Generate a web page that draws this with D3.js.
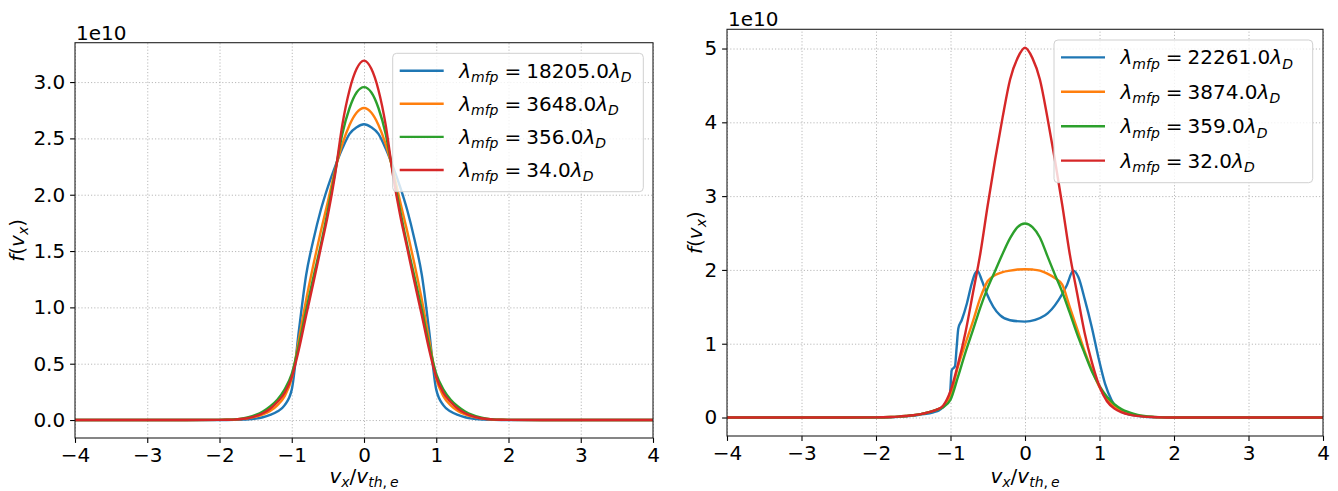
<!DOCTYPE html>
<html>
<head>
<meta charset="utf-8">
<script src="https://cdn.jsdelivr.net/npm/d3@7"></script>
<style>
  body { margin: 0; background: #fff; }
  svg text { font-family: "DejaVu Sans", sans-serif; fill: #000; }
</style>
</head>
<body>
<svg id="chart" width="1338" height="491"></svg>
<script>
// --- data (f values in units of 1e10) ---
const vx = [-4, -3, -2, -1.9, -1.8, -1.7, -1.6, -1.5, -1.4, -1.3, -1.2, -1.1, -1.0, -0.9, -0.8, -0.7, -0.6, -0.5, -0.4, -0.3, -0.2, -0.1,
  0, 0.1, 0.2, 0.3, 0.4, 0.5, 0.6, 0.7, 0.8, 0.9, 1.0, 1.1, 1.2, 1.3, 1.4, 1.5, 1.6, 1.7, 1.8, 1.9, 2, 3, 4];

const xTicks = [-4, -3, -2, -1, 0, 1, 2, 3, 4];
const yTicksLeft = [0, 0.5, 1.0, 1.5, 2.0, 2.5, 3.0];
const yTicksRight = [0, 1, 2, 3, 4, 5];

const lambdaLeft = ["18205.0", "3648.0", "356.0", "34.0"];
const lambdaRight = ["22261.0", "3874.0", "359.0", "32.0"];
const colors = ["#1f77b4", "#ff7f0e", "#2ca02c", "#d62728"];

// left panel
const blueLeft = [0, 0, 0, 0, 0.001, 0.003, 0.006, 0.013, 0.025, 0.045, 0.075, 0.13, 0.27, 0.80, 1.29, 1.60, 1.86, 2.07, 2.25, 2.41, 2.54, 2.60,
  2.626, 2.60, 2.54, 2.41, 2.25, 2.07, 1.86, 1.60, 1.29, 0.80, 0.27, 0.13, 0.075, 0.045, 0.025, 0.013, 0.006, 0.003, 0.001, 0, 0, 0, 0];
const orangeLeft = [0, 0, 0.001, 0.002, 0.004, 0.009, 0.017, 0.03, 0.05, 0.08, 0.13, 0.21, 0.37, 0.72, 1.07, 1.38, 1.67, 1.94, 2.22, 2.45, 2.62, 2.73,
  2.77, 2.73, 2.62, 2.45, 2.22, 1.94, 1.67, 1.38, 1.07, 0.72, 0.37, 0.21, 0.13, 0.08, 0.05, 0.03, 0.017, 0.009, 0.004, 0.002, 0.001, 0, 0];
const greenLeft = [0, 0, 0.001, 0.003, 0.006, 0.013, 0.025, 0.045, 0.075, 0.12, 0.18, 0.27, 0.41, 0.67, 0.98, 1.27, 1.55, 1.86, 2.20, 2.54, 2.77, 2.91,
  2.955, 2.91, 2.77, 2.54, 2.20, 1.86, 1.55, 1.27, 0.98, 0.67, 0.41, 0.27, 0.18, 0.12, 0.075, 0.045, 0.025, 0.013, 0.006, 0.003, 0.001, 0, 0];
const redLeft = [0, 0, 0.001, 0.002, 0.004, 0.009, 0.018, 0.035, 0.06, 0.10, 0.16, 0.24, 0.38, 0.63, 0.93, 1.22, 1.52, 1.82, 2.18, 2.62, 2.93, 3.12,
  3.19, 3.12, 2.93, 2.62, 2.18, 1.82, 1.52, 1.22, 0.93, 0.63, 0.38, 0.24, 0.16, 0.10, 0.06, 0.035, 0.018, 0.009, 0.004, 0.002, 0.001, 0, 0];

// right panel
const blueRight = [[-4, 0], [-3, 0], [-2, 0], [-1.8, 0.003], [-1.68, 0.01], [-1.5, 0.025], [-1.41, 0.04], [-1.23, 0.07], [-1.15, 0.1],
  [-1.074, 0.167], [-1.007, 0.325], [-0.984, 0.64], [-0.94, 0.695], [-0.917, 0.957], [-0.895, 1.206], [-0.85, 1.318], [-0.78, 1.545],
  [-0.715, 1.816], [-0.671, 1.95], [-0.64, 1.99], [-0.58, 1.86], [-0.514, 1.68], [-0.425, 1.50], [-0.336, 1.386], [-0.2, 1.318],
  [0, 1.30], [0.27, 1.386], [0.45, 1.59], [0.56, 1.79], [0.648, 1.99], [0.716, 1.905], [0.805, 1.59], [0.895, 1.23], [0.984, 0.82],
  [1.074, 0.46], [1.163, 0.235], [1.298, 0.076], [1.48, 0.027], [1.74, 0.003], [2, 0], [3, 0], [4, 0]];
const orangeRight = [0, 0, 0.002, 0.004, 0.007, 0.012, 0.02, 0.03, 0.045, 0.07, 0.10, 0.15, 0.30, 0.69, 1.00, 1.30, 1.62, 1.85, 1.93, 1.97, 1.99, 2.005,
  2.01, 2.005, 1.99, 1.95, 1.89, 1.80, 1.50, 1.20, 0.90, 0.64, 0.41, 0.25, 0.15, 0.09, 0.055, 0.03, 0.016, 0.008, 0.004, 0.002, 0.001, 0, 0];
const greenRight = [0, 0, 0.002, 0.004, 0.007, 0.012, 0.02, 0.03, 0.045, 0.07, 0.10, 0.14, 0.24, 0.55, 0.88, 1.18, 1.49, 1.76, 1.99, 2.22, 2.43, 2.58,
  2.63, 2.58, 2.44, 2.19, 1.94, 1.70, 1.42, 1.13, 0.87, 0.62, 0.43, 0.28, 0.18, 0.11, 0.07, 0.04, 0.022, 0.011, 0.005, 0.002, 0.001, 0, 0];
const redRight = [0, 0, 0.002, 0.004, 0.007, 0.012, 0.02, 0.03, 0.045, 0.07, 0.10, 0.16, 0.36, 0.72, 1.15, 1.68, 2.22, 2.88, 3.50, 4.07, 4.58, 4.87,
  5.01, 4.87, 4.58, 4.07, 3.50, 2.88, 2.22, 1.68, 1.15, 0.74, 0.42, 0.22, 0.12, 0.07, 0.04, 0.022, 0.012, 0.006, 0.003, 0.001, 0, 0, 0];

const pairs = arr => vx.map((v, i) => [v, arr[i]]);

const panels = [
  {
    left: 75, right: 653, top: 42.7, bottom: 438,
    series: [pairs(blueLeft), pairs(orangeLeft), pairs(greenLeft), pairs(redLeft)],
    yTicks: yTicksLeft, yFormat: d3.format(".1f"), labels: lambdaLeft,
    legend: { x: 392.7, y: 53.3, w: 250.6, h: 138.4, row: 33.1 },
    ylabelX: 24
  },
  {
    left: 727, right: 1323, top: 29.3, bottom: 436,
    series: [blueRight, pairs(orangeRight), pairs(greenRight), pairs(redRight)],
    yTicks: yTicksRight, yFormat: d3.format("d"), labels: lambdaRight,
    legend: { x: 1054, y: 40, w: 258.7, h: 142.7, row: 34.4 },
    ylabelX: 702
  }
];

const FS = 20;
const svg = d3.select("#chart");

// writes matplotlib-like mathtext as tspans
function mathText(sel, parts) {
  let shift = 0;
  parts.forEach(pt => {
    const target = pt.sub ? FS * 0.22 : 0;
    const ts = sel.append("tspan")
      .text(pt.t)
      .attr("dy", target - shift)
      .attr("font-size", pt.sub ? FS * 0.7 : FS)
      .attr("font-style", pt.it ? "italic" : "normal");
    if (pt.dx) ts.attr("dx", pt.dx);
    shift = target;
  });
}

function drawPanel(p) {
  const x = d3.scaleLinear().domain([-4, 4]).range([p.left, p.right]);
  const yMax = d3.max(p.series, s => d3.max(s, d => d[1]));
  const y = d3.scaleLinear().domain([-0.05 * yMax, 1.05 * yMax]).range([p.bottom, p.top]);
  const g = svg.append("g");
  const h = p.bottom - p.top, w = p.right - p.left;

  // grid lines
  g.append("g")
    .attr("transform", `translate(0,${p.bottom})`)
    .call(d3.axisBottom(x).tickValues(xTicks).tickSize(-h).tickFormat(""))
    .call(a => a.select(".domain").remove());
  g.append("g")
    .attr("transform", `translate(${p.left},0)`)
    .call(d3.axisLeft(y).tickValues(p.yTicks).tickSize(-w).tickFormat(""))
    .call(a => a.select(".domain").remove());
  g.selectAll(".tick line")
    .attr("stroke", "#a8a8a8").attr("stroke-width", 0.8).attr("stroke-dasharray", "1.2,2");

  // curves
  const line = d3.line().x(d => x(d[0])).y(d => y(d[1])).curve(d3.curveMonotoneX);
  p.series.forEach((s, i) => {
    g.append("path")
      .attr("d", line(s))
      .attr("fill", "none")
      .attr("stroke", colors[i])
      .attr("stroke-width", 2.4)
      .attr("stroke-linejoin", "round");
  });

  // axes
  const xa = g.append("g")
    .attr("transform", `translate(0,${p.bottom})`)
    .call(d3.axisBottom(x).tickValues(xTicks).tickSize(4.9).tickPadding(4.5));
  const ya = g.append("g")
    .attr("transform", `translate(${p.left},0)`)
    .call(d3.axisLeft(y).tickValues(p.yTicks).tickFormat(p.yFormat).tickSize(4.9).tickPadding(4.9));
  [xa, ya].forEach(a => {
    a.selectAll(".domain").remove();
    a.selectAll("text").attr("font-size", FS).attr("font-family", "DejaVu Sans").attr("fill", "#000");
    a.selectAll(".tick line").attr("stroke", "#000").attr("stroke-width", 1.1);
  });

  // frame
  g.append("rect")
    .attr("x", p.left).attr("y", p.top).attr("width", w).attr("height", h)
    .attr("fill", "none").attr("stroke", "#222").attr("stroke-width", 1.1);

  // offset text
  g.append("text").attr("x", p.left + 1).attr("y", p.top - 3)
    .attr("font-size", FS).text("1e10");

  // axis labels
  const xl = g.append("text").attr("x", (p.left + p.right) / 2).attr("y", 483)
    .attr("text-anchor", "middle");
  mathText(xl, [{ t: "v", it: 1 }, { t: "x", it: 1, sub: 1 }, { t: "/" }, { t: "v", it: 1 },
    { t: "th", it: 1, sub: 1 }, { t: ",", sub: 1 }, { t: "e", it: 1, sub: 1, dx: 3 }]);

  const yl = g.append("text")
    .attr("transform", `translate(${p.ylabelX},${(p.top + p.bottom) / 2}) rotate(-90)`)
    .attr("text-anchor", "middle");
  mathText(yl, [{ t: "f", it: 1 }, { t: "(" }, { t: "v", it: 1 }, { t: "x", it: 1, sub: 1 }, { t: ")" }]);

  // legend
  const L = p.legend;
  const lg = g.append("g");
  lg.append("rect")
    .attr("x", L.x).attr("y", L.y).attr("width", L.w).attr("height", L.h).attr("rx", 4)
    .attr("fill", "#fff").attr("fill-opacity", 0.8)
    .attr("stroke", "#d0d0d0").attr("stroke-width", 1);
  p.labels.forEach((lab, i) => {
    const ry = L.y + 17.4 + i * L.row;
    lg.append("line")
      .attr("x1", L.x + 7).attr("x2", L.x + 51).attr("y1", ry).attr("y2", ry)
      .attr("stroke", colors[i]).attr("stroke-width", 2.4);
    const t = lg.append("text").attr("x", L.x + 66.5).attr("y", ry + 7);
    mathText(t, [{ t: "λ", it: 1 }, { t: "mfp", it: 1, sub: 1 }, { t: "=", dx: 6 }, { t: lab, dx: 5 },
      { t: "λ", it: 1 }, { t: "D", it: 1, sub: 1 }]);
  });
}

panels.forEach(drawPanel);
</script>
</body>
</html>
